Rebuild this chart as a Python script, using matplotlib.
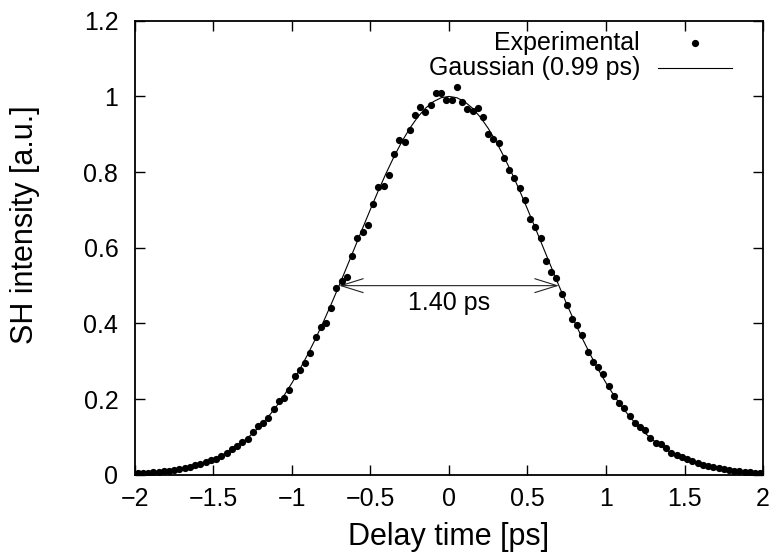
import matplotlib
matplotlib.use("Agg")
import matplotlib.pyplot as plt

plt.rcParams['font.family'] = ['Liberation Sans', 'DejaVu Sans']

# Experimental scan (delay in ps, SH intensity)
delay = [
    -1.983, -1.950, -1.917, -1.883, -1.850, -1.817, -1.783, -1.750, -1.717, -1.683,
    -1.650, -1.617, -1.583, -1.550, -1.517, -1.483, -1.450, -1.417, -1.383, -1.350,
    -1.317, -1.283, -1.250, -1.217, -1.183, -1.150, -1.117, -1.083, -1.050, -1.017,
    -0.983, -0.950, -0.917, -0.883, -0.850, -0.817, -0.783, -0.750, -0.717, -0.683,
    -0.650, -0.617, -0.583, -0.550, -0.517, -0.483, -0.450, -0.417, -0.383, -0.350,
    -0.317, -0.283, -0.250, -0.217, -0.183, -0.150, -0.117, -0.083, -0.050, -0.017,
    0.017, 0.050, 0.083, 0.117, 0.150, 0.183, 0.217, 0.250, 0.283, 0.317,
    0.350, 0.383, 0.417, 0.450, 0.483, 0.517, 0.550, 0.583, 0.617, 0.650,
    0.683, 0.717, 0.750, 0.783, 0.817, 0.850, 0.883, 0.917, 0.950, 0.983,
    1.017, 1.050, 1.083, 1.117, 1.150, 1.183, 1.217, 1.250, 1.283, 1.317,
    1.350, 1.383, 1.417, 1.450, 1.483, 1.517, 1.550, 1.583, 1.617, 1.650,
    1.683, 1.717, 1.750, 1.783, 1.817, 1.850, 1.883, 1.917, 1.950, 1.983,
]
intensity = [
    0.005, 0.005, 0.006, 0.007, 0.008, 0.010, 0.011, 0.013, 0.016, 0.018,
    0.022, 0.025, 0.029, 0.033, 0.038, 0.043, 0.050, 0.059, 0.068, 0.077,
    0.087, 0.096, 0.112, 0.128, 0.136, 0.151, 0.174, 0.196, 0.204, 0.224,
    0.262, 0.277, 0.295, 0.323, 0.363, 0.392, 0.400, 0.442, 0.493, 0.511,
    0.523, 0.579, 0.625, 0.641, 0.660, 0.717, 0.760, 0.764, 0.792, 0.848,
    0.885, 0.880, 0.912, 0.951, 0.971, 0.960, 0.978, 1.009, 1.009, 0.990,
    0.990, 1.026, 0.984, 0.967, 0.962, 0.969, 0.945, 0.901, 0.887, 0.876,
    0.837, 0.805, 0.785, 0.757, 0.727, 0.676, 0.656, 0.626, 0.566, 0.537,
    0.519, 0.478, 0.449, 0.411, 0.396, 0.369, 0.325, 0.299, 0.286, 0.266,
    0.234, 0.209, 0.189, 0.178, 0.155, 0.138, 0.127, 0.119, 0.097, 0.085,
    0.081, 0.070, 0.059, 0.052, 0.046, 0.043, 0.037, 0.031, 0.027, 0.023,
    0.020, 0.017, 0.015, 0.013, 0.011, 0.009, 0.008, 0.007, 0.006, 0.005,
]

# Gaussian fit curve
fit_delay = [
    -2.00, -1.95, -1.90, -1.85, -1.80, -1.75, -1.70, -1.65, -1.60, -1.55,
    -1.50, -1.45, -1.40, -1.35, -1.30, -1.25, -1.20, -1.15, -1.10, -1.05,
    -1.00, -0.95, -0.90, -0.85, -0.80, -0.75, -0.70, -0.65, -0.60, -0.55,
    -0.50, -0.45, -0.40, -0.35, -0.30, -0.25, -0.20, -0.15, -0.10, -0.05,
    0.00, 0.05, 0.10, 0.15, 0.20, 0.25, 0.30, 0.35, 0.40, 0.45,
    0.50, 0.55, 0.60, 0.65, 0.70, 0.75, 0.80, 0.85, 0.90, 0.95,
    1.00, 1.05, 1.10, 1.15, 1.20, 1.25, 1.30, 1.35, 1.40, 1.45,
    1.50, 1.55, 1.60, 1.65, 1.70, 1.75, 1.80, 1.85, 1.90, 1.95, 2.00,
]
fit_intensity = [
    0.0035, 0.0046, 0.0060, 0.0079, 0.0102, 0.0131, 0.0168, 0.0213, 0.0268, 0.0334,
    0.0415, 0.0511, 0.0625, 0.0759, 0.0916, 0.1097, 0.1304, 0.1541, 0.1805, 0.2101,
    0.2430, 0.2790, 0.3180, 0.3598, 0.4044, 0.4512, 0.5000, 0.5503, 0.6009, 0.6519,
    0.7021, 0.7510, 0.7975, 0.8409, 0.8806, 0.9155, 0.9450, 0.9687, 0.9860, 0.9965,
    1.0000, 0.9965, 0.9860, 0.9687, 0.9450, 0.9155, 0.8806, 0.8409, 0.7975, 0.7510,
    0.7021, 0.6519, 0.6009, 0.5503, 0.5000, 0.4512, 0.4044, 0.3598, 0.3180, 0.2790,
    0.2430, 0.2101, 0.1805, 0.1541, 0.1304, 0.1097, 0.0916, 0.0759, 0.0625, 0.0511,
    0.0415, 0.0334, 0.0268, 0.0213, 0.0168, 0.0131, 0.0102, 0.0079, 0.0060, 0.0046, 0.0035,
]

# FWHM arrow
fwhm_left, fwhm_right, fwhm_level = -0.70, 0.70, 0.50
fwhm_label = "1.40 ps"

xticks = [-2, -1.5, -1, -0.5, 0, 0.5, 1, 1.5, 2]
xtick_labels = ["\u22122", "\u22121.5", "\u22121", "\u22120.5", "0", "0.5", "1", "1.5", "2"]
yticks = [0, 0.2, 0.4, 0.6, 0.8, 1.0, 1.2]
ytick_labels = ["0", "0.2", "0.4", "0.6", "0.8", "1", "1.2"]

label_exp = "Experimental"
label_fit = "Gaussian (0.99 ps)"

FS = 18
FS_LABEL = 22

fig = plt.figure(figsize=(7.77, 5.60), dpi=100)
ax = fig.add_axes([0.1737, 0.152, 0.8083, 0.811])

ax.plot(fit_delay, fit_intensity, color='black', lw=0.8, zorder=2)
ax.plot(delay, intensity, 'o', color='black', ms=5.2, mew=0, zorder=3)

ax.annotate('', xy=(fwhm_left, fwhm_level), xytext=(fwhm_right, fwhm_level),
            arrowprops=dict(arrowstyle='<->,head_length=0.8,head_width=0.25',
                            color='#222222', lw=0.8, shrinkA=0, shrinkB=0,
                            mutation_scale=20), zorder=1)
ax.text((fwhm_left + fwhm_right) / 2, fwhm_level - 0.045, fwhm_label,
        ha='center', va='center', fontsize=FS)

ax.set_xlim(-2, 2)
ax.set_ylim(0, 1.2)
ax.set_xticks(xticks)
ax.set_xticklabels(xtick_labels)
ax.set_yticks(yticks)
ax.set_yticklabels(ytick_labels)
ax.tick_params(direction='in', length=7, width=1, top=True, right=True,
               labelsize=FS)
ax.tick_params(axis='x', pad=9)
ax.tick_params(axis='y', pad=12)
for s in ax.spines.values():
    s.set_linewidth(1.3)

ax.set_xlabel("Delay time [ps]", fontsize=FS_LABEL, labelpad=8)
ax.set_ylabel("SH intensity [a.u.]", fontsize=FS_LABEL)
ax.yaxis.set_label_coords(-0.152, 0.55)

# Legend (gnuplot style: right-justified text, sample on the right)
ax.text(0.804, 0.952, label_exp, transform=ax.transAxes, ha='right', va='center', fontsize=FS)
ax.plot([0.892], [0.952], 'o', color='black', ms=5.2, mew=0, transform=ax.transAxes,
        clip_on=False)
ax.text(0.804, 0.896, label_fit, transform=ax.transAxes, ha='right', va='center', fontsize=FS)
ax.plot([0.833, 0.951], [0.896, 0.896], color='black', lw=0.8, transform=ax.transAxes)

fig.savefig("out.png", dpi=100)
